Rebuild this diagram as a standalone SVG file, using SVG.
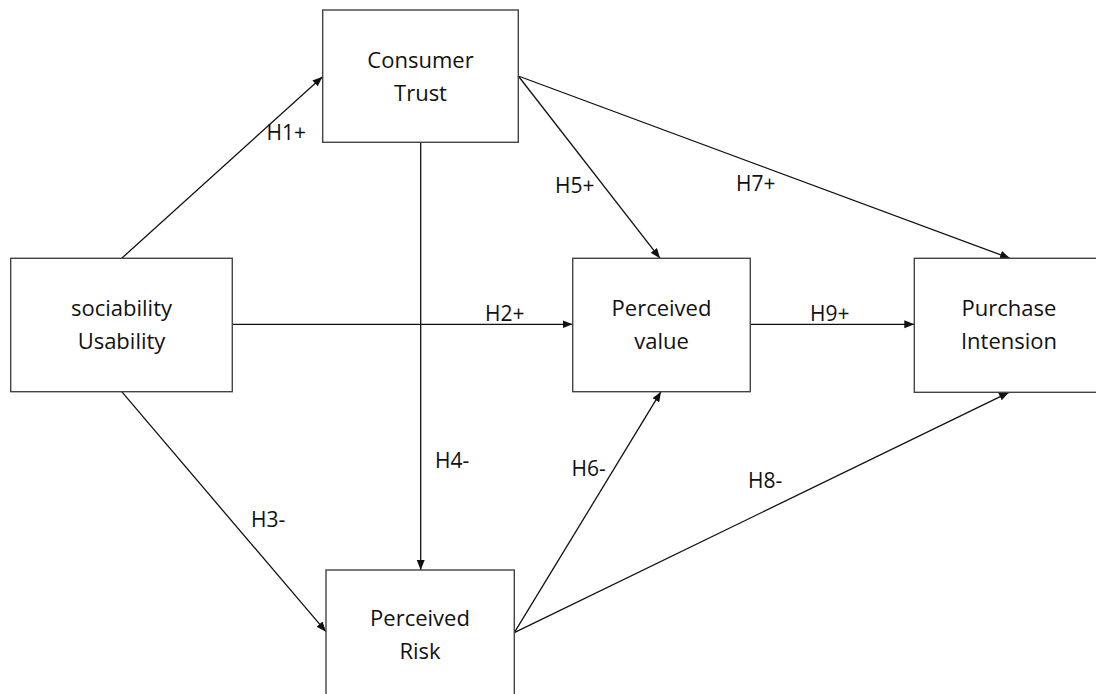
<svg xmlns="http://www.w3.org/2000/svg" width="1096" height="694" viewBox="0 0 1096 694">
<style>
.box{fill:#fff;stroke:#444;stroke-width:1.4}
.t{font-family:"Open Sans","Noto Sans",sans-serif;font-size:22px;fill:#111;text-anchor:middle}
.lb{font-family:"Open Sans","Noto Sans",sans-serif;font-size:21px;fill:#111}
.c{stroke:#111;stroke-width:1.3;fill:none;marker-end:url(#ah)}
</style>
<defs>
<marker id="ah" markerUnits="userSpaceOnUse" markerWidth="11" markerHeight="9" refX="10" refY="4" orient="auto">
<path d="M0,0 L10,4 L0,8 z" fill="#111"/>
</marker>
</defs>
<rect width="1096" height="694" fill="#fff"/>
<g id="connectors">
<line class="c" x1="121.7" y1="258.3" x2="322.5" y2="76.7"/>
<line class="c" x1="232.3" y1="324.3" x2="572.5" y2="324.3"/>
<line class="c" x1="121.7" y1="391.7" x2="326" y2="631.7"/>
<line class="c" x1="420.7" y1="142.3" x2="420.7" y2="570"/>
<line class="c" x1="518.3" y1="76" x2="660" y2="258.3"/>
<line class="c" x1="514.3" y1="632.7" x2="661" y2="391.7"/>
<line class="c" x1="518.3" y1="76" x2="1010" y2="258.3"/>
<line class="c" x1="514.3" y1="632.7" x2="1009" y2="392.3"/>
<line class="c" x1="750.3" y1="324.3" x2="914.3" y2="324.3"/>
<text class="lb" x="266.5" y="139.5">H1+</text>
<text class="lb" x="485" y="321">H2+</text>
<text class="lb" x="251" y="527">H3-</text>
<text class="lb" x="435" y="468">H4-</text>
<text class="lb" x="555" y="193">H5+</text>
<text class="lb" x="571.5" y="476">H6-</text>
<text class="lb" x="736" y="191">H7+</text>
<text class="lb" x="748" y="488">H8-</text>
<text class="lb" x="810" y="321">H9+</text>
</g>
<g id="consumer-trust">
<rect class="box" x="322.7" y="10" width="195.6" height="132.3"/>
<text class="t" x="420.5" y="68">Consumer</text>
<text class="t" x="420.5" y="100.5">Trust</text>
</g>
<g id="sociability-usability">
<rect class="box" x="10.7" y="258.3" width="221.6" height="133.4"/>
<text class="t" x="121.5" y="316">sociability</text>
<text class="t" x="121.5" y="349">Usability</text>
</g>
<g id="perceived-value">
<rect class="box" x="572.7" y="258.3" width="177.6" height="133.4"/>
<text class="t" x="661.5" y="316">Perceived</text>
<text class="t" x="661.5" y="349">value</text>
</g>
<g id="purchase-intension">
<rect class="box" x="914.3" y="258.3" width="190" height="134"/>
<text class="t" x="1009" y="316">Purchase</text>
<text class="t" x="1009" y="349">Intension</text>
</g>
<g id="perceived-risk">
<rect class="box" x="326" y="570" width="188.3" height="140"/>
<text class="t" x="420" y="626">Perceived</text>
<text class="t" x="420" y="659">Risk</text>
</g>
</svg>
